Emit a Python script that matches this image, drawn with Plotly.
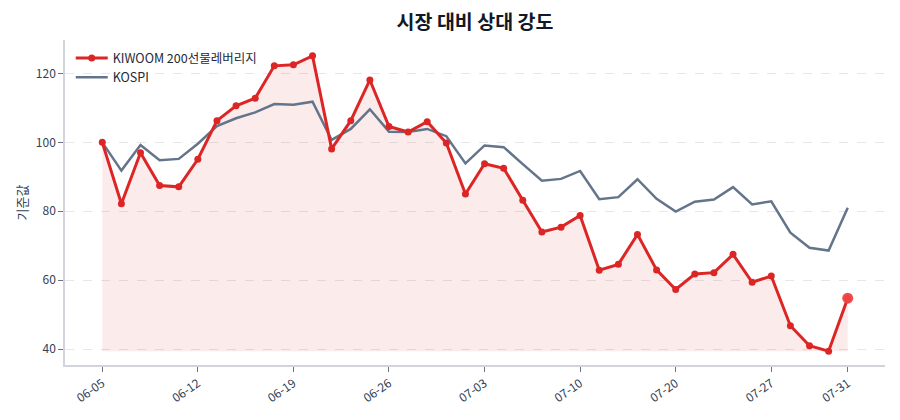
import plotly.graph_objects as go

dates = ["06-05", "06-07", "06-08", "06-09", "06-10",
         "06-12", "06-13", "06-14", "06-15", "06-16",
         "06-19", "06-20", "06-21", "06-22", "06-23",
         "06-26", "06-27", "06-28", "06-29", "06-30",
         "07-03", "07-04", "07-05", "07-06", "07-07",
         "07-10", "07-11", "07-12", "07-13", "07-17",
         "07-20", "07-21", "07-24", "07-25", "07-26",
         "07-27", "07-28", "07-29", "07-30", "07-31"]
kiwoom = [100.0, 82.2, 97.0, 87.5, 87.1, 95.1, 106.3, 110.6, 112.8, 122.2,
          122.5, 125.1, 98.1, 106.3, 118.1, 104.6, 103.0, 106.0, 99.8, 85.0,
          93.8, 92.5, 83.2, 74.0, 75.4, 78.8, 62.9, 64.6, 73.3, 63.0,
          57.3, 61.8, 62.2, 67.5, 59.4, 61.2, 46.8, 41.0, 39.4, 54.8]
kospi = [100.0, 91.8, 99.2, 94.8, 95.2, 99.6, 104.7, 107.0, 108.7, 111.1,
         110.9, 111.8, 100.7, 103.9, 109.6, 103.1, 103.0, 103.9, 101.8, 93.9,
         99.1, 98.6, 93.7, 88.9, 89.4, 91.7, 83.5, 84.1, 89.3, 83.6,
         79.9, 82.8, 83.4, 87.0, 82.0, 82.9, 73.8, 69.4, 68.6, 81.0]
tick_labels = ["06-05", "06-12", "06-19", "06-26", "07-03",
               "07-10", "07-20", "07-27", "07-31"]

FONT = "Noto Sans CJK KR"
RED = "#dc2626"
GRAY = "#64748b"
idx = list(range(len(dates)))
base = min(kiwoom)
tickvals = [dates.index(t) for t in tick_labels]

fig = go.Figure()
fig.add_trace(go.Scatter(x=idx, y=[base] * len(idx), mode="lines",
                         line=dict(width=0), hoverinfo="skip", showlegend=False))
fig.add_trace(go.Scatter(x=idx, y=kiwoom, mode="lines", fill="tonexty",
                         fillcolor="rgba(220,38,38,0.09)", line=dict(width=0),
                         hoverinfo="skip", showlegend=False))
fig.add_trace(go.Scatter(x=idx, y=kospi, mode="lines", name="KOSPI",
                         line=dict(color=GRAY, width=2.5)))
fig.add_trace(go.Scatter(x=idx, y=kiwoom, mode="lines+markers",
                         name="KIWOOM 200선물레버리지",
                         line=dict(color=RED, width=3),
                         marker=dict(size=7, color=RED)))
fig.add_trace(go.Scatter(x=[idx[-1]], y=[kiwoom[-1]], mode="markers",
                         marker=dict(size=11, color="rgba(239,68,68,0.95)"),
                         showlegend=False, hoverinfo="skip"))

fig.update_layout(
    width=900, height=420,
    margin=dict(l=65, r=15, t=40, b=55),
    paper_bgcolor="white", plot_bgcolor="white",
    font=dict(family=FONT, size=12, color="#334155"),
    title=dict(text="<b>시장 대비 상대 강도</b>", xref="paper", x=0.5,
               xanchor="center", y=1 - 22 / 420, yanchor="middle",
               font=dict(family=FONT, size=19.5, color="#111827")),
    legend=dict(x=0.007, y=0.99, xanchor="left", yanchor="top",
                bgcolor="rgba(255,255,255,0)", traceorder="reversed",
                font=dict(family=FONT, size=12.5, color="#1f2937"),
                itemwidth=32, tracegroupgap=0),
    showlegend=True,
)
fig.update_xaxes(range=[-1.95, 40.95], tickmode="array", tickvals=tickvals,
                 ticktext=tick_labels, tickangle=-35, showgrid=False,
                 showline=True, linecolor="#d1d5db", linewidth=1.5,
                 ticks="outside", ticklen=5, tickcolor="#6b7280",
                 tickfont=dict(size=12, color="#334155"), zeroline=False,
                 automargin=False)
fig.update_yaxes(range=[35.4, 129.7], tickvals=[40, 60, 80, 100, 120],
                 showgrid=True, gridcolor="#e5e7eb", griddash="dash",
                 gridwidth=1, showline=True, linecolor="#d1d5db",
                 linewidth=1.5, ticks="outside", ticklen=5,
                 tickcolor="#6b7280", tickfont=dict(size=12, color="#334155"),
                 title=dict(text="기준값", font=dict(size=13, color="#334155"),
                            standoff=5),
                 zeroline=False, automargin=False)

fig.write_html("out.html", config={"displayModeBar": False},
               post_script="document.body.style.margin='0px';")
